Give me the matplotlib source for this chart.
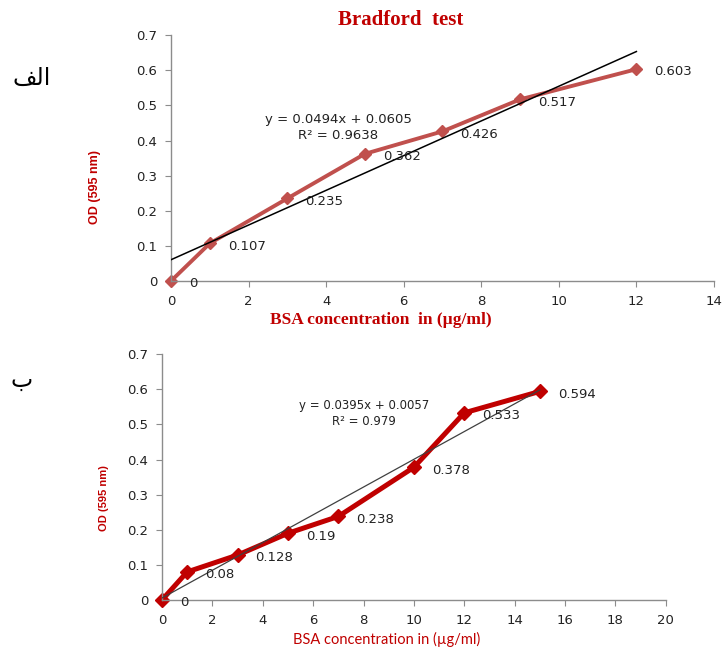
import matplotlib
matplotlib.use("Agg")
import matplotlib.pyplot as plt
import numpy as np

# chart A (top)
conc_a = [0, 1, 3, 5, 7, 9, 12]
od_a = [0, 0.107, 0.235, 0.362, 0.426, 0.517, 0.603]
labels_a = ["0", "0.107", "0.235", "0.362", "0.426", "0.517", "0.603"]
slope_a, icpt_a = 0.0494, 0.0605
eq_a = ["y = 0.0494x + 0.0605", "R\u00b2 = 0.9638"]

# chart B (bottom)
conc_b = [0, 1, 3, 5, 7, 10, 12, 15]
od_b = [0, 0.08, 0.128, 0.19, 0.238, 0.378, 0.533, 0.594]
labels_b = ["0", "0.08", "0.128", "0.19", "0.238", "0.378", "0.533", "0.594"]
slope_b, icpt_b = 0.0395, 0.0057
eq_b = ["y = 0.0395x + 0.0057", "R\u00b2 = 0.979"]

yticks = [0, 0.1, 0.2, 0.3, 0.4, 0.5, 0.6, 0.7]
ytick_labels = ["0", "0.1", "0.2", "0.3", "0.4", "0.5", "0.6", "0.7"]

RED = "#C00000"
SPINE = "#8c8c8c"


def style_axes(ax, xmax, xstep):
    for s in ["top", "right"]:
        ax.spines[s].set_visible(False)
    for s in ["left", "bottom"]:
        ax.spines[s].set_color(SPINE)
        ax.spines[s].set_linewidth(1.0)
    ax.set_xlim(0, xmax)
    ax.set_ylim(0, 0.7)
    ax.set_xticks(np.arange(0, xmax + 1, xstep))
    ax.set_yticks(yticks)
    ax.set_yticklabels(ytick_labels)
    ax.tick_params(direction="out", length=4, color=SPINE, labelsize=9.5,
                   labelcolor="#222222", pad=6)
    for t in ax.get_xticklabels() + ax.get_yticklabels():
        t.set_family("DejaVu Sans")


def add_labels(ax, xs, ys, labels):
    for x, y, lab in zip(xs, ys, labels):
        ax.annotate(lab, (x, y), xytext=(13, -2), textcoords="offset points",
                    ha="left", va="center", fontsize=9.5, color="#222222",
                    annotation_clip=False)


fig = plt.figure(figsize=(7.23, 6.47), dpi=100)

# ---- top chart
ax1 = fig.add_axes([0.2365, 0.5657, 0.751, 0.380])
style_axes(ax1, 14, 2)
xt = np.array([0, 12])
ax1.plot(xt, slope_a * xt + icpt_a, color="black", lw=1.1, zorder=3)
ax1.plot(conc_a, od_a, color="#C0504D", lw=2.8, marker="D", ms=6, zorder=2,
         clip_on=False)
add_labels(ax1, conc_a, od_a, labels_a)
ax1.text(4.31, 0.461, eq_a[0], ha="center", va="center", fontsize=9.5, color="#222222")
ax1.text(4.31, 0.415, eq_a[1], ha="center", va="center", fontsize=9.5, color="#222222")
ax1.set_xlabel("BSA concentration  in (\u00b5g/ml)", family="Liberation Serif",
               weight="bold", fontsize=12.5, color=RED)
ax1.xaxis.set_label_coords((381 - 171) / 543, -(312 - 281) / 246)
ax1.set_ylabel("OD (595 nm)", family="Liberation Sans", weight="bold",
               fontsize=9, color=RED)
ax1.yaxis.set_label_coords(-0.129, 0.382)
fig.text(401 / 723, 1 - 20 / 647, "Bradford  test", family="Liberation Serif",
         weight="bold", fontsize=15, color=RED, ha="center", va="center")

# ---- bottom chart
ax2 = fig.add_axes([0.224, 0.0726, 0.697, 0.380])
style_axes(ax2, 20, 2)
xt = np.array([0, 15])
ax2.plot(xt, slope_b * xt + icpt_b, color="#404040", lw=0.9, zorder=3)
ax2.plot(conc_b, od_b, color=RED, lw=3.6, marker="D", ms=7.5, zorder=2,
         clip_on=False)
add_labels(ax2, conc_b, od_b, labels_b)
ax2.text(8.02, 0.555, eq_b[0], ha="center", va="center", fontsize=8.5, color="#222222")
ax2.text(8.02, 0.509, eq_b[1], ha="center", va="center", fontsize=8.5, color="#222222")
ax2.set_xlabel("BSA concentration in (\u00b5g/ml)", family="Lato",
               fontsize=10.5, color=RED)
ax2.xaxis.set_label_coords((387 - 162) / 504, -(632 - 600) / 246)
ax2.set_ylabel("OD (595 nm)", family="Liberation Sans", weight="bold",
               fontsize=8, color=RED)
ax2.yaxis.set_label_coords(-0.105, 0.415)

# Arabic panel letters (presentation forms so glyphs join as in the original)
fig.text(32 / 723, 1 - 78 / 647, "\uFED2\uFEDF\uFE8D", family="DejaVu Sans",
         fontsize=17, ha="center", va="center", color="black")
fig.text(22 / 723, 1 - 380 / 647, "\u0628", family="DejaVu Sans",
         fontsize=17, ha="center", va="center", color="black")

fig.savefig("out.png", dpi=100)
